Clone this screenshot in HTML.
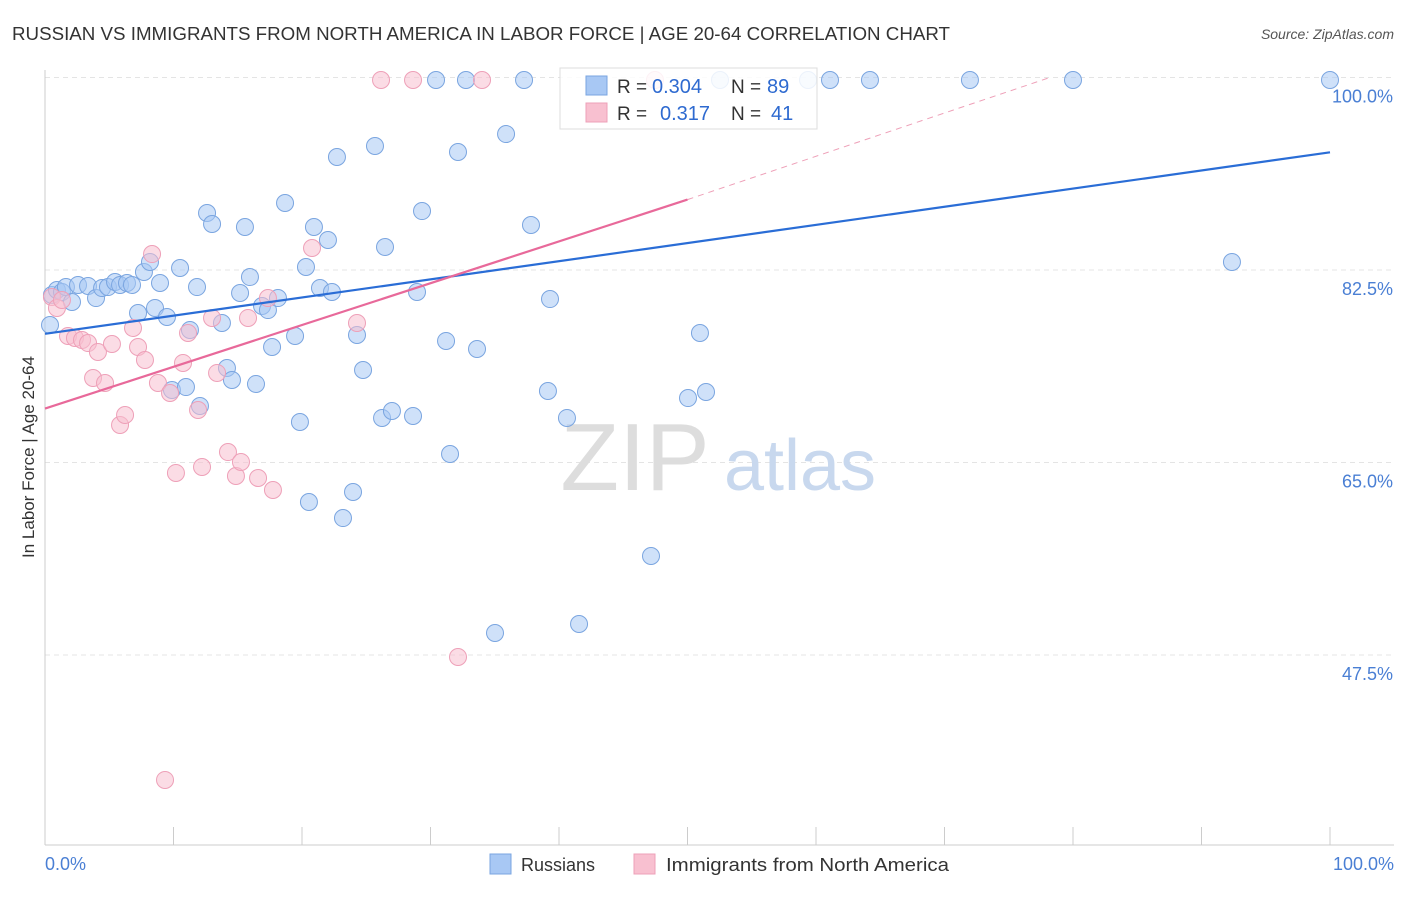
<!DOCTYPE html>
<html><head><meta charset="utf-8">
<style>
body{margin:0;background:#fff;font-family:"Liberation Sans",sans-serif;}
svg text{font-family:"Liberation Sans",sans-serif;}
</style></head>
<body>
<svg width="1406" height="892" viewBox="0 0 1406 892">
<text x="12" y="40" font-size="18" fill="#333" textLength="938" lengthAdjust="spacingAndGlyphs">RUSSIAN VS IMMIGRANTS FROM NORTH AMERICA IN LABOR FORCE | AGE 20-64 CORRELATION CHART</text>
<text x="1394" y="39" font-size="14" fill="#555" text-anchor="end" font-style="italic">Source: ZipAtlas.com</text>
<g id="grid"></g>
<text x="635" y="490" font-size="96" fill="#ddd" text-anchor="middle" font-family="Liberation Serif">ZIP</text>
<text x="800" y="490" font-size="72" fill="#c8d8ee" text-anchor="middle">atlas</text>
<line x1="45" y1="70" x2="45" y2="845" stroke="#ccc"/>
<line x1="45" y1="845" x2="1394" y2="845" stroke="#ccc"/>
<g id="xt"></g>
<text x="45" y="870" font-size="18" fill="#4a7fd4">0.0%</text>
<text x="1394" y="870" font-size="18" fill="#4a7fd4" text-anchor="end">100.0%</text>
<text x="34" y="457" font-size="17" fill="#333" text-anchor="middle" transform="rotate(-90 34 457)">In Labor Force | Age 20-64</text>
<g id="pts"></g>
<g id="lines"></g>
<g>
<rect x="560" y="68" width="257" height="61" fill="#fff" fill-opacity="0.85" stroke="#ddd"/>
<rect x="586" y="76" width="21" height="19" fill="#a8c8f4" stroke="#7aa5e0"/>
<rect x="586" y="103" width="21" height="19" fill="#f8c0d0" stroke="#eea0b8"/>
<text x="617" y="93" font-size="19" fill="#333">R =</text>
<text x="652" y="93" font-size="20" fill="#2e6ad0">0.304</text>
<text x="731" y="93" font-size="19" fill="#333">N =</text>
<text x="767" y="93" font-size="20" fill="#2e6ad0">89</text>
<text x="617" y="120" font-size="19" fill="#333">R =</text>
<text x="660" y="120" font-size="20" fill="#2e6ad0">0.317</text>
<text x="731" y="120" font-size="19" fill="#333">N =</text>
<text x="771" y="120" font-size="20" fill="#2e6ad0">41</text>
</g>
<g>
<rect x="490" y="854" width="21" height="20" fill="#a8c8f4" stroke="#7aa5e0"/>
<text x="521" y="871" font-size="18" fill="#333">Russians</text>
<rect x="634" y="854" width="21" height="20" fill="#f8c0d0" stroke="#eea0b8"/>
<text x="666" y="871" font-size="18" fill="#333" textLength="283" lengthAdjust="spacingAndGlyphs">Immigrants from North America</text>
</g>
</svg>
<script>
const yTicks=[100,82.5,65,47.5];
const yTickLabels=["100.0%","82.5%","65.0%","47.5%"];
const bluePx=[[50,325],[52,295],[57,290],[62,292],[66,287],[72,302],[78,285],[88,286],[96,298],[102,288],[108,287],[115,282],[120,285],[127,283],[132,285],[138,313],[144,272],[150,262],[155,308],[160,283],[167,317],[172,390],[180,268],[186,387],[190,330],[197,287],[200,406],[207,213],[212,224],[222,323],[227,368],[232,380],[240,293],[245,227],[250,277],[256,384],[262,306],[268,310],[272,347],[278,298],[285,203],[295,336],[300,422],[306,267],[309,502],[314,227],[320,288],[328,240],[332,292],[337,157],[343,518],[353,492],[357,335],[363,370],[375,146],[382,418],[385,247],[392,411],[413,416],[417,292],[422,211],[436,80],[446,341],[450,454],[458,152],[466,80],[477,349],[495,633],[506,134],[524,80],[531,225],[548,391],[550,299],[567,418],[579,624],[651,556],[688,398],[700,333],[706,392],[720,80],[808,80],[830,80],[870,80],[970,80],[1073,80],[1232,262],[1330,80]];
const pinkPx=[[52,297],[57,308],[62,300],[68,336],[75,338],[82,340],[88,343],[93,378],[98,352],[105,383],[112,344],[120,425],[125,415],[133,328],[138,347],[145,360],[152,254],[158,383],[165,780],[170,393],[176,473],[183,363],[188,333],[198,410],[202,467],[212,318],[217,373],[228,452],[236,476],[241,462],[248,318],[258,478],[268,298],[273,490],[312,248],[357,323],[381,80],[413,80],[458,657],[482,80],[655,80]];
// convert read pixel positions to data values
const russiansX=bluePx.map(p=>+((p[0]-45)/12.85).toFixed(2));
const russiansY=bluePx.map(p=>+(100-(p[1]-77.5)/11).toFixed(2));
const naX=pinkPx.map(p=>+((p[0]-45)/12.85).toFixed(2));
const naY=pinkPx.map(p=>+(100-(p[1]-77.5)/11).toFixed(2));
const blueTrend=[[0,76.7],[100,93.2]];
const pinkTrend=[[0,69.9],[50,88.9],[78.2,100]];
function sx(v){return 45+v*12.85;}
function sy(v){return 77.5+(100-v)*11;}
const NS="http://www.w3.org/2000/svg";
function mk(tag,attrs,parent){const e=document.createElementNS(NS,tag);for(const k in attrs)e.setAttribute(k,attrs[k]);parent.appendChild(e);return e;}
const grid=document.getElementById('grid');
yTicks.forEach((t,i)=>{
 const l=mk('line',{x1:45,x2:1394,y1:sy(t),y2:sy(t),stroke:'#e4e4e4','stroke-dasharray':'5,4'},grid);
 
 
 const tx=mk('text',{x:1393,y:sy(t)+25,'font-size':18,fill:'#4a7fd4','text-anchor':'end'},grid);
 tx.textContent=yTickLabels[i];
 
 
});
const xt=document.getElementById('xt');
for(let i=0;i<=10;i++){
 const l=mk('line',{x1:sx(i*10),x2:sx(i*10),y1:827,y2:845,stroke:'#ccc'},xt);
 
 
}
const pts=document.getElementById('pts');
russiansX.forEach((x,i)=>{
 const c=mk('circle',{cx:sx(x),cy:sy(russiansY[i]),r:8.5,fill:'#a8c8f4','fill-opacity':0.55,stroke:'#7aa5e0','stroke-width':1},pts);
 
 
});
naX.forEach((x,i)=>{
 const c=mk('circle',{cx:sx(x),cy:sy(naY[i]),r:8.5,fill:'#f8c0d0','fill-opacity':0.55,stroke:'#eea0b8','stroke-width':1},pts);
 
 
});
const lines=document.getElementById('lines');
const bl=mk('line',{x1:sx(blueTrend[0][0]),y1:sy(blueTrend[0][1]),x2:sx(blueTrend[1][0]),y2:sy(blueTrend[1][1]),stroke:'#2a6dd6','stroke-width':2.2},lines);


const pl=mk('line',{x1:sx(pinkTrend[0][0]),y1:sy(pinkTrend[0][1]),x2:sx(pinkTrend[1][0]),y2:sy(pinkTrend[1][1]),stroke:'#e8699a','stroke-width':2.2},lines);


const pd=mk('line',{x1:sx(pinkTrend[1][0]),y1:sy(pinkTrend[1][1]),x2:sx(pinkTrend[2][0]),y2:sy(pinkTrend[2][1]),stroke:'#eea0b8','stroke-width':1,'stroke-dasharray':'6,5'},lines);


</script>
</body></html>
